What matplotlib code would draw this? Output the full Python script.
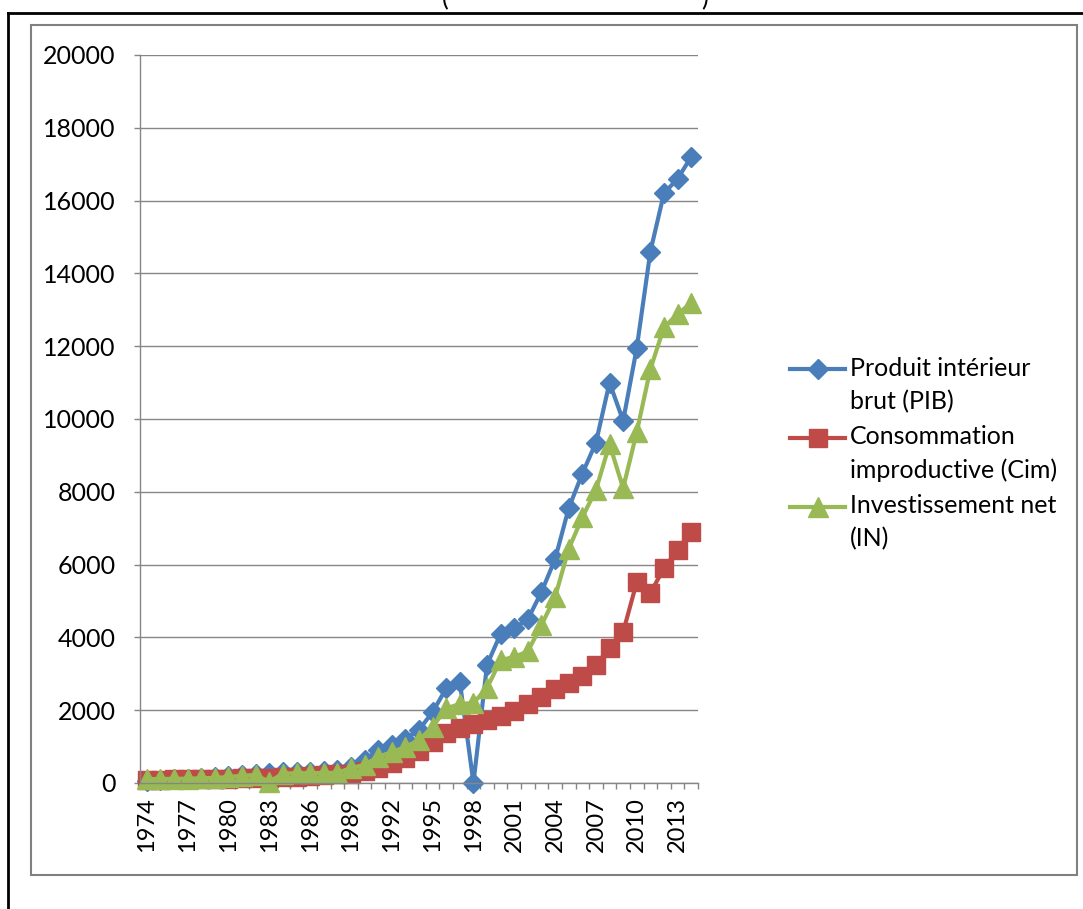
import numpy as np
import matplotlib
matplotlib.use('Agg')
import matplotlib.pyplot as plt
from matplotlib.lines import Line2D
from matplotlib.patches import Rectangle
from matplotlib.legend_handler import HandlerLine2D

years = list(range(1974, 2015))

# Produit intérieur brut (PIB)
pib = [60, 80, 100, 120, 140, 165, 190, 210, 240, 280,
       290, 295, 300, 320, 370, 440, 630, 900, 1040, 1210,
       1460, 1950, 2600, 2780, 0, 3250, 4100, 4250, 4500, 5250,
       6150, 7550, 8500, 9350, 11000, 9950, 11950, 14600, 16200, 16600,
       17200]

# Consommation improductive (Cim)
cim = [90, 95, 100, 105, 110, 115, 120, 130, 140, 150,
       160, 175, 190, 210, 240, 260, 320, 420, 560, 700,
       880, 1120, 1380, 1520, 1620, 1720, 1830, 1970, 2160, 2360,
       2580, 2750, 2940, 3240, 3710, 4150, 5520, 5220, 5900, 6400,
       6900]

# Investissement net (IN)
inv = [110, 110, 115, 120, 130, 140, 165, 200, 220, 30,
       260, 270, 275, 275, 280, 410, 500, 720, 850, 990,
       1180, 1540, 2050, 2170, 2200, 2610, 3380, 3460, 3620, 4340,
       5110, 6430, 7300, 8050, 9310, 8100, 9640, 11370, 12520, 12880,
       13190]

series_labels = ['Produit intérieur\nbrut (PIB)',
                 'Consommation\nimproductive (Cim)',
                 'Investissement net\n(IN)']
colors = ['#4A7EBB', '#BE4B48', '#98B954']

plt.rcParams['font.family'] = ['Lato', 'DejaVu Sans']

W, H = 1083, 909
fig = plt.figure(figsize=(W / 100, H / 100), dpi=100)


def px(x0, y0, x1, y1):
    return [x0 / W, 1 - y1 / H, (x1 - x0) / W, (y1 - y0) / H]


# cadres
fig.add_artist(Line2D([8 / W, 8 / W], [0, 1 - 13 / H], color='black', lw=2))
fig.add_artist(Line2D([8 / W, 1], [1 - 13 / H, 1 - 13 / H], color='black', lw=2))
fig.add_artist(Rectangle((31 / W, 1 - 875 / H), (1077 - 31) / W, (875 - 25) / H,
                         transform=fig.transFigure, fill=False, ec='#808080', lw=1.5))
fig.text(445 / W, 1 - 10 / H, '(', va='bottom', ha='center', fontsize=18)
fig.text(705 / W, 1 - 10 / H, ')', va='bottom', ha='center', fontsize=18)

ax = fig.add_axes(px(140, 55, 698, 783))
x = np.arange(len(years))

ax.plot(x, pib, color=colors[0], lw=3, marker='D', ms=10, mec=colors[0],
        label=series_labels[0], clip_on=False)
ax.plot(x, cim, color=colors[1], lw=3, marker='s', ms=13.5, mec=colors[1],
        label=series_labels[1], clip_on=False)
ax.plot(x, inv, color=colors[2], lw=3, marker='^', ms=14, mec=colors[2],
        label=series_labels[2], clip_on=False)

ax.set_xlim(-0.5, len(years) - 0.5)
ax.set_ylim(0, 20000)
ax.set_yticks(range(0, 20001, 2000))
ax.set_xticks(x[::3])
ax.set_xticklabels([str(y) for y in years[::3]], rotation=90)
ax.set_xticks(np.arange(-0.5, len(years)), minor=True)
ax.tick_params(axis='x', which='major', length=0, pad=10, labelsize=17)
ax.tick_params(axis='x', which='minor', length=4.5, color='#868686', width=1)
ax.tick_params(axis='y', length=4.5, color='#868686', width=1, labelsize=18, pad=13)
ax.grid(axis='y', color='#868686', lw=1)
ax.set_axisbelow(True)
for s in ['top', 'right']:
    ax.spines[s].set_visible(False)
for s in ['left', 'bottom']:
    ax.spines[s].set_color('#868686')
    ax.spines[s].set_linewidth(1)


class FirstLineHandler(HandlerLine2D):
    # place le symbole au niveau de la première ligne du libellé
    def create_artists(self, legend, orig_handle, xdescent, ydescent,
                       width, height, fontsize, trans):
        arts = super().create_artists(legend, orig_handle, xdescent, ydescent,
                                      width, height, fontsize, trans)
        for a in arts:
            a.set_ydata(np.asarray(a.get_ydata()) + 0.66 * fontsize)
        return arts


leg = ax.legend(handler_map={Line2D: FirstLineHandler(numpoints=1)},
                loc='upper left', bbox_to_anchor=(790 / W, 1 - 357 / H),
                bbox_transform=fig.transFigure, frameon=False, fontsize=18,
                borderpad=0, borderaxespad=0, handlelength=2.2,
                handletextpad=0.2, labelspacing=0.5)
for t in leg.get_texts():
    t.set_linespacing(1.5)

fig.savefig('out.png', dpi=100)
